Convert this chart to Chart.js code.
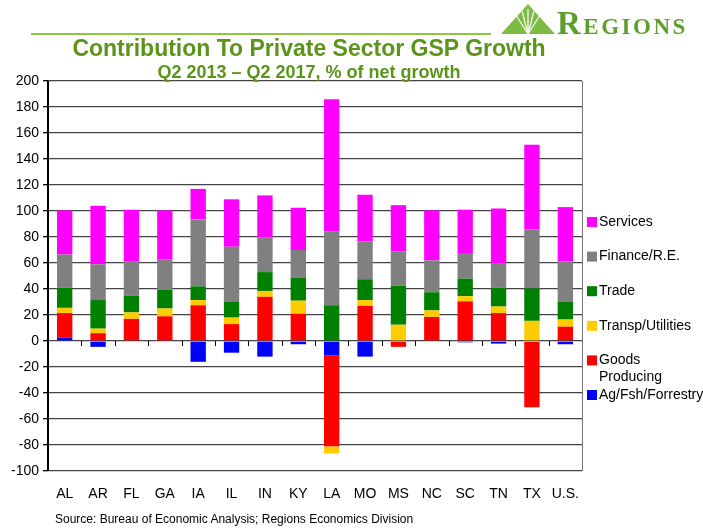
<!DOCTYPE html>
<html>
<head>
<meta charset="utf-8">
<script src="https://cdn.jsdelivr.net/npm/chart.js@4.4.1/dist/chart.umd.min.js"></script>
<style>
  body { margin: 0; background: #fff; font-family: "Liberation Sans", Arial, sans-serif; }
  #wrap { position: relative; width: 703px; height: 529px; overflow: hidden; }
  #wrap canvas { position: absolute; left: 0; top: 0; }
  .title { position: absolute; left: 0; width: 618px; text-align: center; color: #5a9419; font-weight: bold; }
  #t1 { top: 35px; font-size: 23px; }
  #t2 { top: 62px; font-size: 18px; }
  #rule { position: absolute; left: 31px; top: 33px; width: 460px; height: 2px; background: #8dc63f; }
  #logo { position: absolute; left: 500px; top: 3px; }
  #logotext { position: absolute; left: 557px; top: 5px; font-family: "Liberation Serif", serif; font-variant: small-caps;
              font-size: 33px; color: #5e9e2e; letter-spacing: 2.5px; font-weight: bold; }
  #source { position: absolute; left: 55px; top: 512px; font-size: 12px; color: #000; }
</style>
</head>
<body>
<div id="wrap">
  <canvas id="chart" width="703" height="529"></canvas>
  <div id="rule"></div>
  <svg id="logo" width="56" height="32" viewBox="0 0 56 32">
    <polygon points="28,1 55,31 1,31" fill="#7dbb42"/>
    <polyline points="28,31 16,12" stroke="#fff" stroke-width="1.2" fill="none"/>
    <polyline points="28,31 22,8" stroke="#fff" stroke-width="1.2" fill="none"/>
    <polyline points="28,31 28,6" stroke="#fff" stroke-width="1.2" fill="none"/>
    <polyline points="28,31 34,8" stroke="#fff" stroke-width="1.2" fill="none"/>
    <polyline points="28,31 40,12" stroke="#fff" stroke-width="1.2" fill="none"/>
  </svg>
  <div id="logotext">Regions</div>
  <div class="title" id="t1">Contribution To Private Sector GSP Growth</div>
  <div class="title" id="t2">Q2 2013 – Q2 2017, % of net growth</div>
  <div id="source">Source: Bureau of Economic Analysis; Regions Economics Division</div>
</div>
<script>
// categories
const states = ["AL", "AR", "FL", "GA", "IA", "IL", "IN", "KY", "LA", "MO", "MS", "NC", "SC", "TN", "TX", "U.S."];

// series values, % of net growth
const agFshForrestry  = [2.5, -4.5, 0, -0.5, -16, -9, -12, -2.5, -11, -12, 0, 0, -1, -2, 0, -2.5];
const goodsProducing  = [19, 6, 17, 19, 27.5, 13, 34, 21, -70, 27, -4.5, 18.5, 30.5, 21.5, -51, 11];
const transpUtilities = [4, 3.5, 5, 6, 4, 5, 4.5, 10, -5.5, 4.5, 12.5, 5, 4, 5, 15.5, 5.5];
const trade           = [15.5, 22, 13, 14.5, 10.5, 12, 14.5, 17.5, 27.5, 16, 30, 14, 13.5, 14.5, 25, 13.5];
const financeRE       = [25.5, 27.5, 26.5, 23, 51.5, 42.5, 26.5, 21.5, 57, 29, 26.5, 24.5, 19, 19, 45.5, 31];
const services        = [34, 45, 39.5, 38, 23.5, 36.5, 32.5, 32.5, 101.5, 36, 35.5, 38.5, 34, 42, 65, 42];

const yTicks = { min: -100, max: 200, step: 20 };

const context = document.getElementById("chart").getContext("2d");

// legend on the right, Services at the top
const sideLegend = {
    id: "sideLegend",
    afterDraw(chart) {
        const ctx = chart.ctx;
        const sets = chart.data.datasets.slice().reverse();
        ctx.save();
        ctx.font = "14px 'Liberation Sans', Arial, sans-serif";
        ctx.textBaseline = "middle";
        let y = 222;
        sets.forEach(ds => {
            ctx.fillStyle = ds.backgroundColor;
            ctx.fillRect(587, y - 5, 10, 10);
            ctx.fillStyle = "#000";
            let lines = [ds.label];
            if (ds.label.includes(" ") && ctx.measureText(ds.label).width > 100)
                lines = ds.label.split(" ");
            lines.forEach((l, i) => ctx.fillText(l, 599, y + i * 17));
            y += 34.6;
        });
        ctx.restore();
    }
};

// small ticks along the zero line, plus axis lines
const zeroTicks = {
    id: "zeroTicks",
    afterDatasetsDraw(chart) {
        const ctx = chart.ctx;
        const x = chart.scales.x, y = chart.scales.y;
        const y0 = y.getPixelForValue(0);
        const area = chart.chartArea;
        ctx.save();
        ctx.strokeStyle = "#000";
        ctx.lineWidth = 1;
        ctx.beginPath();
        for (let i = 1; i < states.length; i++) {
            const px = Math.round((x.getPixelForValue(i - 1) + x.getPixelForValue(i)) / 2) + 0.5;
            ctx.moveTo(px, y0);
            ctx.lineTo(px, y0 + 5);
        }
        ctx.stroke();
        ctx.lineWidth = 2;
        ctx.beginPath();
        ctx.moveTo(area.left, area.top);
        ctx.lineTo(area.left, area.bottom);
        ctx.stroke();
        ctx.strokeStyle = "#777";
        ctx.lineWidth = 1;
        ctx.beginPath();
        ctx.moveTo(area.right + 0.5, area.top);
        ctx.lineTo(area.right + 0.5, area.bottom);
        ctx.stroke();
        ctx.restore();
    }
};

const chart = new Chart(context, {
    type: "bar",
    data: {
        labels: states,
        datasets: [
            { label: "Ag/Fsh/Forrestry", data: agFshForrestry, backgroundColor: "#0000FF" },
            { label: "Goods Producing", data: goodsProducing, backgroundColor: "#FF0000" },
            { label: "Transp/Utilities", data: transpUtilities, backgroundColor: "#FFCC00" },
            { label: "Trade", data: trade, backgroundColor: "#008000" },
            { label: "Finance/R.E.", data: financeRE, backgroundColor: "#808080" },
            { label: "Services", data: services, backgroundColor: "#FF00FF" }
        ]
    },
    options: {
        responsive: false,
        animation: false,
        categoryPercentage: 1,
        barPercentage: 0.46,
        layout: { padding: { left: 0, top: 81, right: 121, bottom: 24 } },
        plugins: {
            legend: { display: false },
            tooltip: { enabled: false }
        },
        scales: {
            x: {
                stacked: true,
                grid: { display: false, drawTicks: false },
                border: { display: false },
                ticks: { color: "#000", padding: 15, font: { size: 14, family: "'Liberation Sans', Arial" } },
                afterFit: s => { s.height = 34; }
            },
            y: {
                stacked: true,
                min: yTicks.min,
                max: yTicks.max,
                grid: { color: "#444", lineWidth: 1.3, tickLength: 5, tickColor: "#000" },
                border: { display: false },
                ticks: { stepSize: yTicks.step, color: "#000", padding: 4, font: { size: 14, family: "'Liberation Sans', Arial" } },
                afterFit: s => { s.width = 48; }
            }
        }
    },
    plugins: [sideLegend, zeroTicks]
});
</script>
</body>
</html>
